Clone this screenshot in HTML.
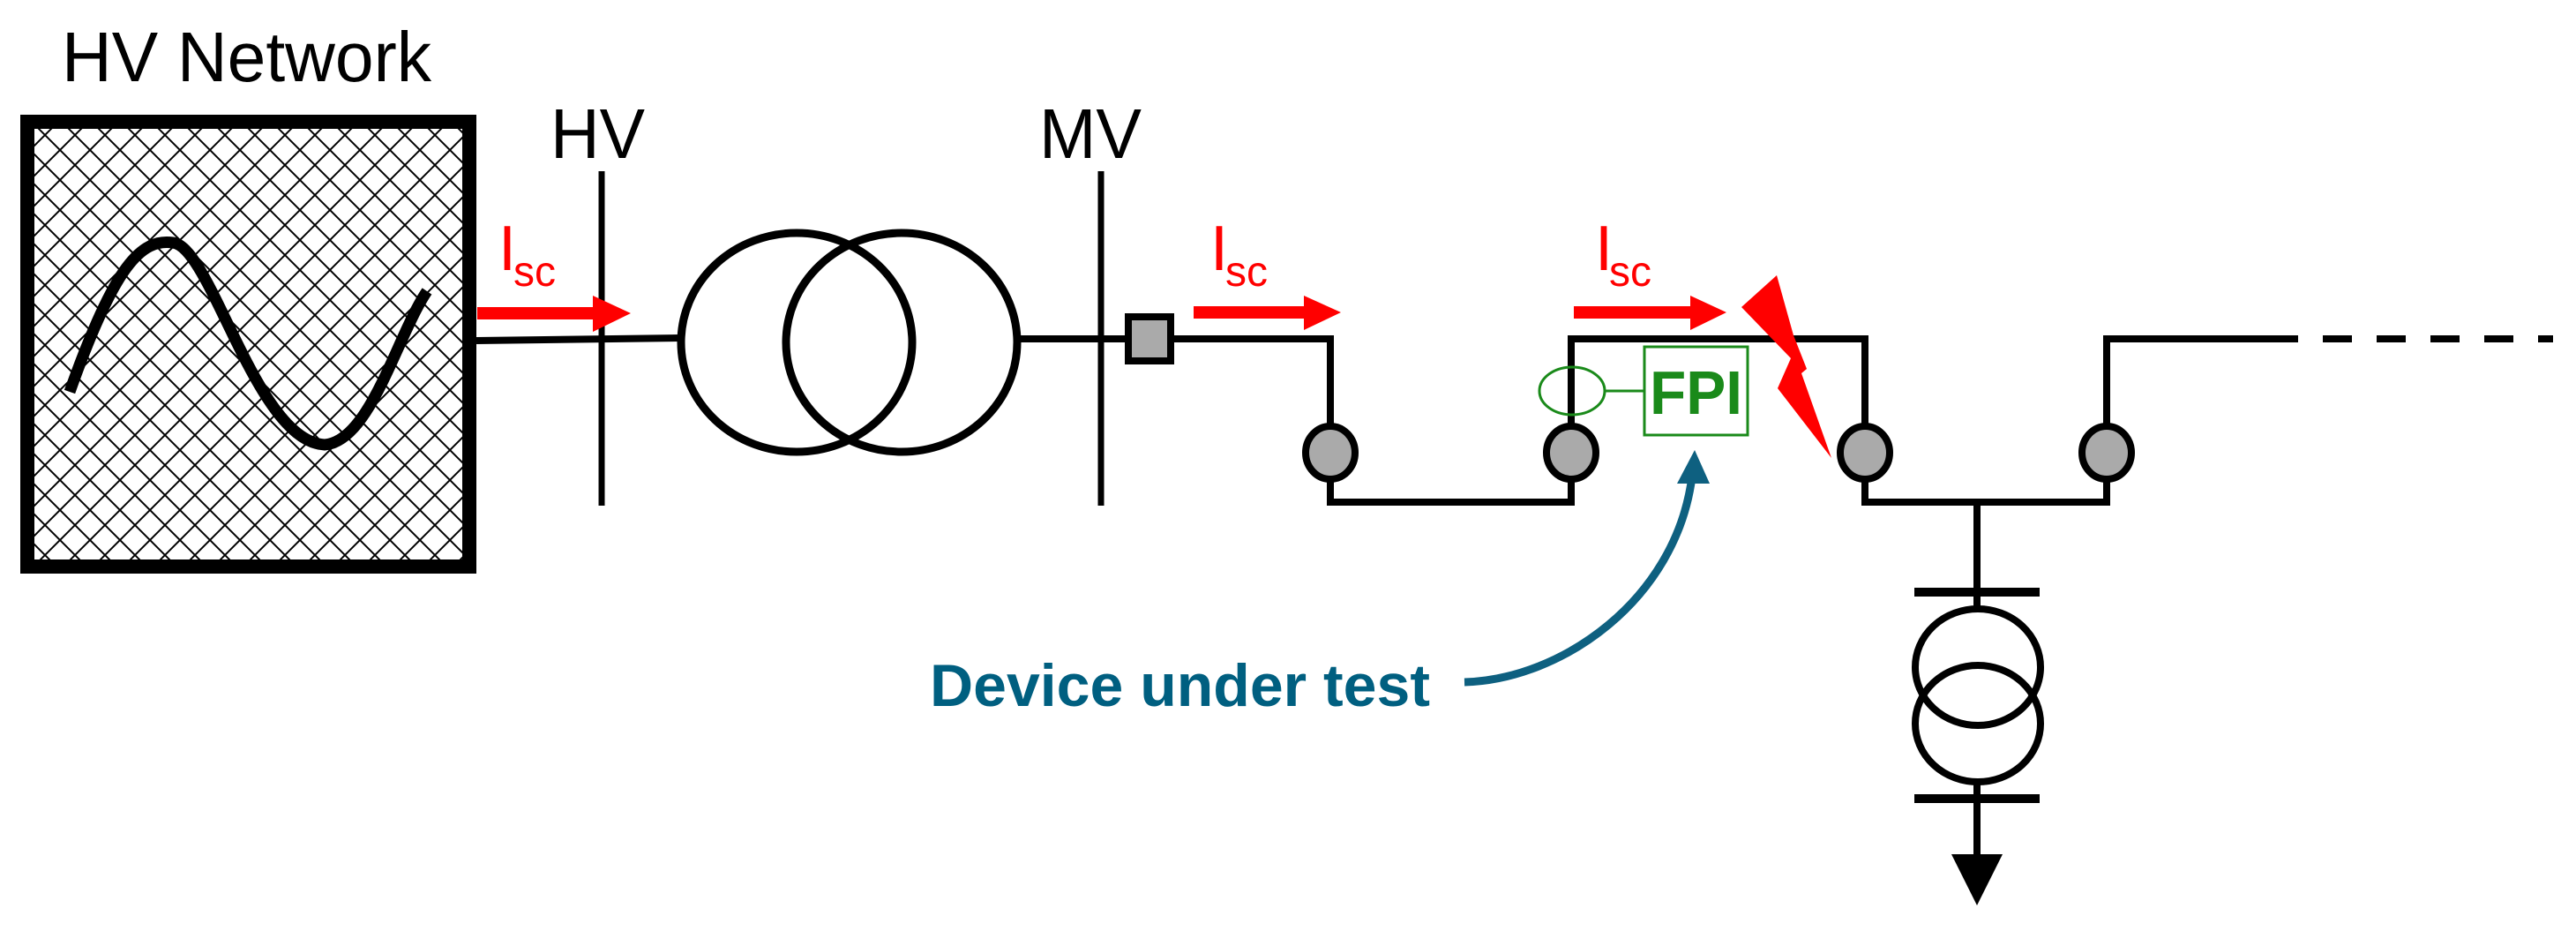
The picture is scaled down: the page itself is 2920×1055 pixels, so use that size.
<!DOCTYPE html>
<html><head><meta charset="utf-8"><style>html,body{margin:0;padding:0;background:#fff}svg{display:block}</style></head>
<body>
<svg width="2920" height="1055" viewBox="0 0 2920 1055" xmlns="http://www.w3.org/2000/svg" font-family="Liberation Sans, sans-serif">
<defs>
<pattern id="hatch" width="34" height="34" patternUnits="userSpaceOnUse">
<path d="M0,0 L34,34 M34,0 L0,34" stroke="#000" stroke-width="2" fill="none"/>
</pattern>
</defs>
<rect width="2920" height="1055" fill="#fff"/>
<text x="70" y="92" font-size="80" textLength="419" lengthAdjust="spacingAndGlyphs">HV Network</text>
<rect x="31" y="138" width="501" height="504" fill="url(#hatch)" stroke="#000" stroke-width="16"/>
<path d="M79,444 C130,300 160,270 196,275 C240,280 290,500 368,504 C420,500 450,380 484,330" fill="none" stroke="#000" stroke-width="13"/>
<line x1="540" y1="386" x2="770" y2="383" stroke="#000" stroke-width="8"/>
<line x1="682" y1="194" x2="682" y2="573" stroke="#000" stroke-width="7"/>
<text x="624" y="179" font-size="80" textLength="107" lengthAdjust="spacingAndGlyphs">HV</text>
<ellipse cx="903" cy="388" rx="131" ry="124" fill="none" stroke="#000" stroke-width="9"/>
<ellipse cx="1022" cy="388" rx="131" ry="124" fill="none" stroke="#000" stroke-width="9"/>
<line x1="1153" y1="384" x2="1248" y2="384" stroke="#000" stroke-width="8"/>
<line x1="1248" y1="194" x2="1248" y2="573" stroke="#000" stroke-width="7"/>
<text x="1178" y="179" font-size="80" textLength="116" lengthAdjust="spacingAndGlyphs">MV</text>
<line x1="1248" y1="384" x2="1504" y2="384" stroke="#000" stroke-width="8"/>
<rect x="1279" y="359" width="48" height="50" fill="#aaa" stroke="#000" stroke-width="8"/>
<g fill="none" stroke="#000" stroke-width="8">
<polyline points="1504,384 1508,384 1508,569 1781,569 1781,384 2114,384 2114,569 2388,569 2388,384 2605,384"/>
<line x1="2633" y1="384" x2="2894" y2="384" stroke-dasharray="33,28"/>
<line x1="2241" y1="569" x2="2241" y2="692"/>
<line x1="2241" y1="884" x2="2241" y2="970"/>
</g>
<g fill="#aaa" stroke="#000" stroke-width="8">
<ellipse cx="1508" cy="513" rx="28" ry="30"/>
<ellipse cx="1781" cy="513" rx="28" ry="30"/>
<ellipse cx="2114" cy="513" rx="28" ry="30"/>
<ellipse cx="2388" cy="513" rx="28" ry="30"/>
</g>
<line x1="2170" y1="671" x2="2312" y2="671" stroke="#000" stroke-width="10"/>
<line x1="2170" y1="905" x2="2312" y2="905" stroke="#000" stroke-width="10"/>
<ellipse cx="2242" cy="756" rx="71" ry="66" fill="none" stroke="#000" stroke-width="8"/>
<ellipse cx="2242" cy="820" rx="71" ry="66" fill="none" stroke="#000" stroke-width="8"/>
<polygon points="2212,968 2270,968 2241,1026" fill="#000"/>
<g fill="#f00">
<rect x="541" y="348" width="135" height="14"/><polygon points="672,335 715,355 672,376"/>
<rect x="1353" y="347" width="130" height="14"/><polygon points="1478,335 1520,354 1478,374"/>
<rect x="1784" y="347" width="135" height="14"/><polygon points="1916,335 1957,354 1916,374"/>
<polygon points="2014,312 2033,380 2048,418 2042,423 2076,519 2015,440 2030,406 1974,348"/>
</g>
<g fill="#f00">
<text x="565" y="306" font-size="72">I</text><text x="582" y="324" font-size="48">sc</text>
<text x="1372" y="306" font-size="72">I</text><text x="1389" y="324" font-size="48">sc</text>
<text x="1808" y="306" font-size="72">I</text><text x="1824" y="324" font-size="48">sc</text>
</g>
<ellipse cx="1782" cy="443" rx="37" ry="27" fill="none" stroke="#1a8a1a" stroke-width="3"/>
<line x1="1819" y1="443" x2="1864" y2="443" stroke="#1a8a1a" stroke-width="3"/>
<rect x="1864" y="393" width="117" height="100" fill="#fff" stroke="#1a8a1a" stroke-width="3"/>
<text x="1870" y="469" font-size="70" font-weight="bold" fill="#1a8a1a" textLength="105" lengthAdjust="spacingAndGlyphs">FPI</text>
<path d="M1660,773 C1770,770 1900,680 1918,540" fill="none" stroke="#0e6080" stroke-width="9"/>
<polygon points="1921,510 1901,548 1938,548" fill="#0e6080"/>
<text x="1054" y="800" font-size="68" font-weight="bold" fill="#005f80" textLength="567" lengthAdjust="spacingAndGlyphs">Device under test</text>
</svg>
</body></html>
